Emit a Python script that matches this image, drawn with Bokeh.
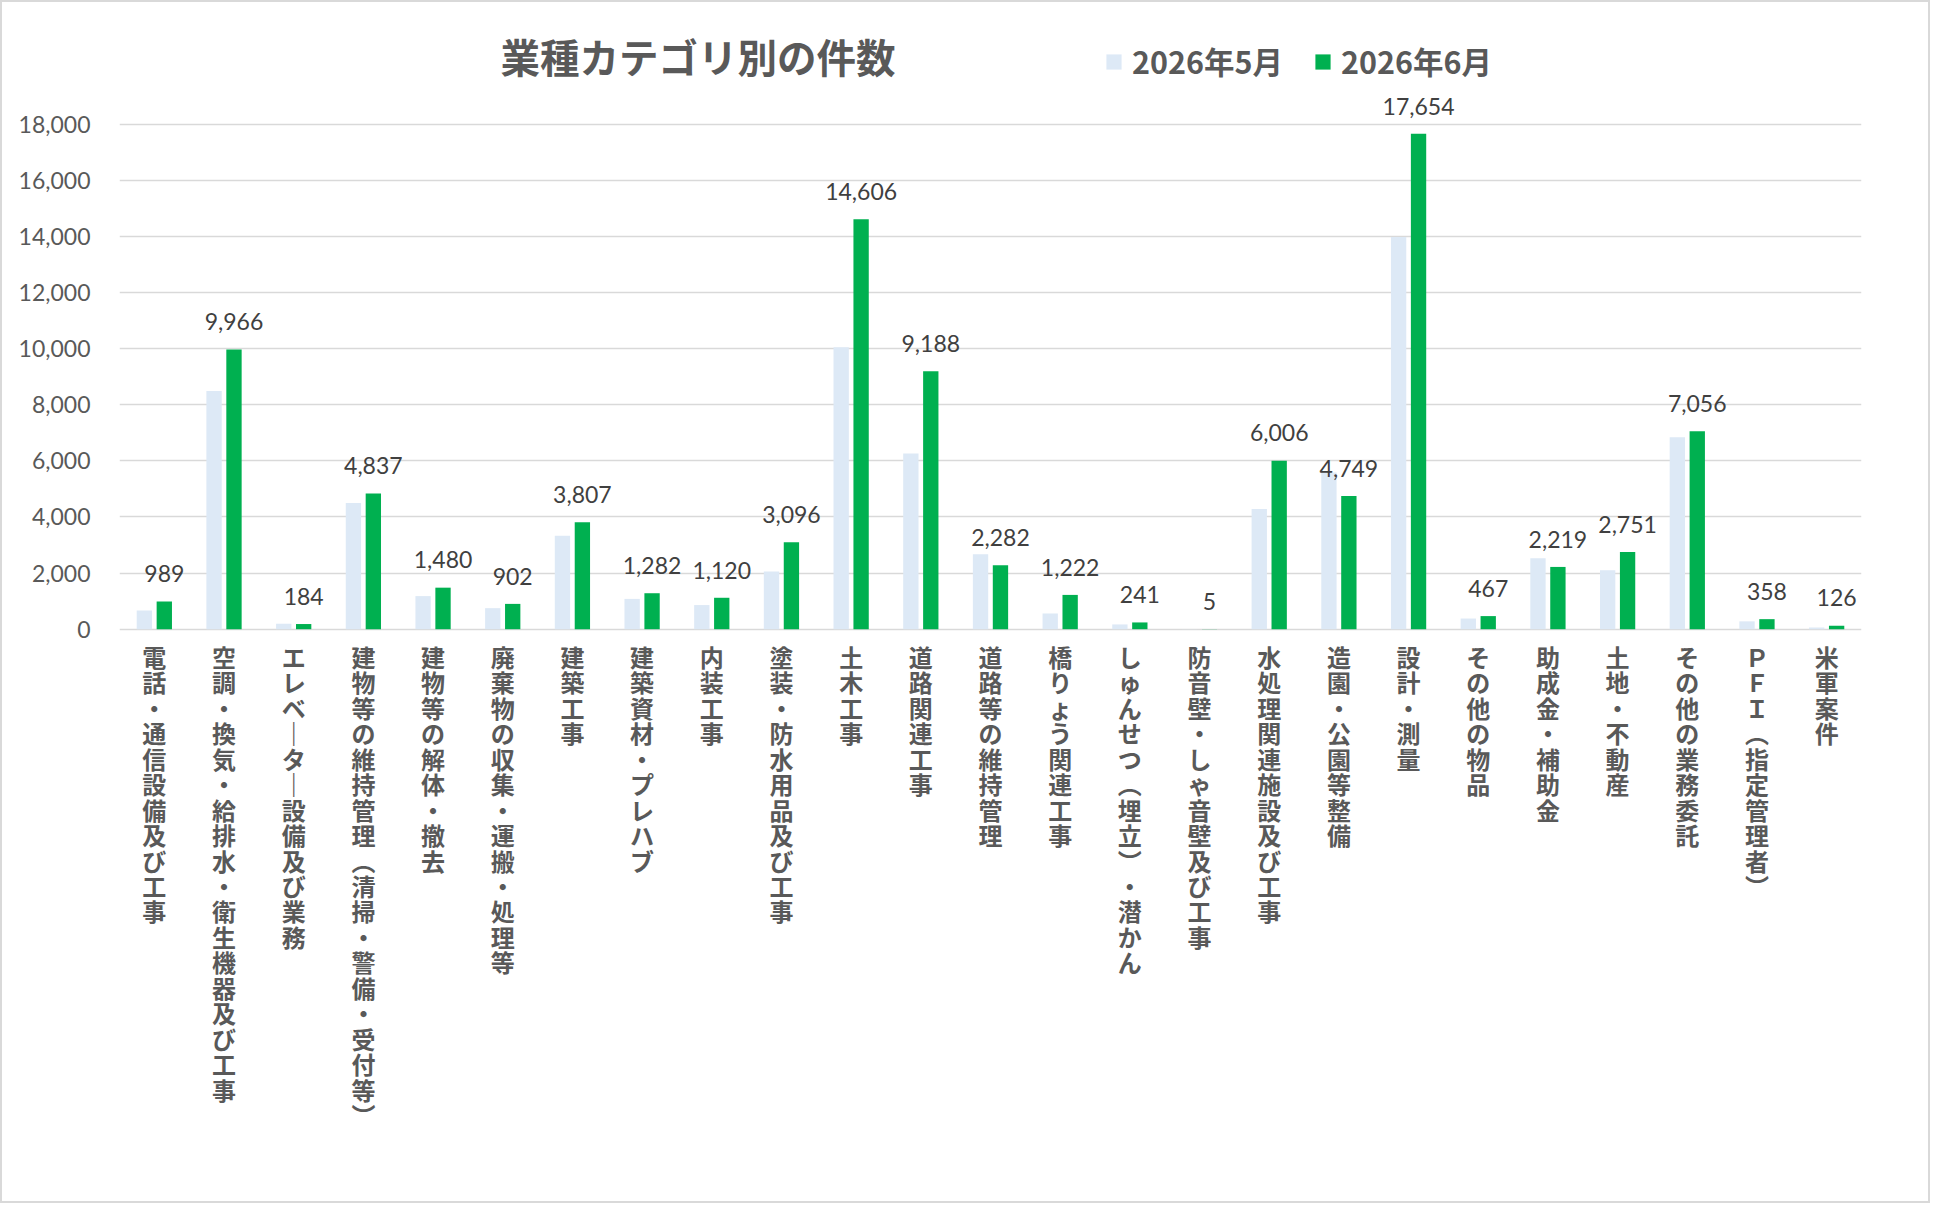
from bokeh.plotting import figure
from bokeh.models import (FactorRange, Range1d, FixedTicker, NumeralTickFormatter,
                          ColumnDataSource, Label, Legend, LegendItem)
from bokeh.transform import dodge
from bokeh.core.properties import value
from bokeh.embed import file_html
from bokeh.resources import INLINE

# ---------------- data ----------------
categories = [
    "電話・通信設備及び工事",
    "空調・換気・給排水・衛生機器及び工事",
    "エレベーター設備及び業務",
    "建物等の維持管理（清掃・警備・受付等）",
    "建物等の解体・撤去",
    "廃棄物の収集・運搬・処理等",
    "建築工事",
    "建築資材・プレハブ",
    "内装工事",
    "塗装・防水用品及び工事",
    "土木工事",
    "道路関連工事",
    "道路等の維持管理",
    "橋りょう関連工事",
    "しゅんせつ（埋立）・潜かん",
    "防音壁・しゃ音壁及び工事",
    "水処理関連施設及び工事",
    "造園・公園等整備",
    "設計・測量",
    "その他の物品",
    "助成金・補助金",
    "土地・不動産",
    "その他の業務委託",
    "ＰＦＩ（指定管理者）",
    "米軍案件",
]
may_2026 = [670, 8490, 195, 4500, 1180, 750, 3330, 1080, 860, 2060,
            10050, 6260, 2670, 560, 170, 3, 4280, 5580, 13980, 380,
            2530, 2100, 6840, 280, 60]
jun_2026 = [989, 9966, 184, 4837, 1480, 902, 3807, 1282, 1120, 3096,
            14606, 9188, 2282, 1222, 241, 5, 6006, 4749, 17654, 467,
            2219, 2751, 7056, 358, 126]
y_ticks = [0, 2000, 4000, 6000, 8000, 10000, 12000, 14000, 16000, 18000]
series_names = ["2026年5月", "2026年6月"]
title_text = "業種カテゴリ別の件数"

# ---------------- layout (pixels) ----------------
W, H = 1930, 1203
FL, FR, FT, FB = 117, 1859, 8, 1193
ZERO_PX, TOP_PX = 626.7, 121.6
YMAX = y_ticks[-1]
k = (ZERO_PX - TOP_PX) / YMAX
y_start = -(FB - ZERO_PX) / k
y_end = (ZERO_PX - FT) / k


def sx_to_x(sx):
    return (sx - FL) / (FR - FL) * len(categories)


def sy_to_y(sy):
    return (ZERO_PX - sy) / k


def vertical(s):
    rep = {"（": "︵", "）": "︶", "ー": "｜"}
    return "\n".join(rep.get(c, c) for c in s)


GRAY = "#595959"
MAY_C = "#dde9f6"
JUN_C = "#00b050"

src = ColumnDataSource(dict(
    cat=categories,
    may=may_2026,
    jun=jun_2026,
    jun_label=[f"{v:,}" for v in jun_2026],
    vlabel=[vertical(c) for c in categories],
))

p = figure(width=W, height=H,
           x_range=FactorRange(factors=categories),
           y_range=Range1d(y_start, y_end),
           x_axis_location=None,
           output_backend="svg", toolbar_location=None,
           min_border_left=FL, min_border_right=W - FR,
           min_border_top=FT, min_border_bottom=H - FB)
p.styles = {"border": "2px solid #d9d9d9"}
p.outline_line_color = None
p.background_fill_color = "white"
p.border_fill_color = "white"

for g in p.xgrid:
    g.visible = False
yt = FixedTicker(ticks=y_ticks)
ax = p.yaxis[0]
ax.ticker = yt
ax.formatter = NumeralTickFormatter(format="0,0")
ax.axis_line_color = None
ax.major_tick_line_color = None
ax.minor_tick_line_color = None
ax.major_tick_out = 0
ax.major_tick_in = 0
ax.major_label_standoff = 29
ax.major_label_text_font = "Lato"
ax.major_label_text_font_size = "23px"
ax.major_label_text_color = GRAY
for g in p.ygrid:
    g.ticker = FixedTicker(ticks=y_ticks)
    g.grid_line_color = "#d9d9d9"
    g.grid_line_width = 1.5

r_may = p.vbar(x=dodge("cat", -0.143, range=p.x_range), top="may", width=0.22,
               source=src, fill_color=MAY_C, line_color=None)
r_jun = p.vbar(x=dodge("cat", 0.143, range=p.x_range), top="jun", width=0.22,
               source=src, fill_color=JUN_C, line_color=None)

p.text(x=dodge("cat", 0.143, range=p.x_range), y="jun", text="jun_label", source=src,
       text_align="center", text_baseline="middle", y_offset=-27.7,
       text_font=value("Lato"), text_font_size="23px", text_color="#404040")

p.text(x="cat", y=0, text="vlabel", source=src, y_offset=9.5,
       text_align="center", text_baseline="top",
       text_font=value("Noto Sans CJK JP"), text_font_size="24px",
       text_font_style="bold", text_color=GRAY, text_line_height=0.728)

p.add_layout(Label(x=sx_to_x(695.5), y=sy_to_y(53.3), text=title_text,
                   text_align="center", text_baseline="middle",
                   text_font="Noto Sans CJK JP", text_font_size="39.5px",
                   text_font_style="bold", text_color=GRAY))

legend = Legend(items=[LegendItem(label=series_names[0], renderers=[r_may]),
                       LegendItem(label=series_names[1], renderers=[r_jun])],
                orientation="horizontal",
                location=(985, FB - 81.2),
                padding=0, margin=0, spacing=30,
                glyph_width=19, glyph_height=19, label_standoff=9,
                label_text_font="Noto Sans CJK JP", label_text_font_size="30.5px",
                label_text_font_style="bold", label_text_color=GRAY,
                border_line_color=None, background_fill_alpha=0)
p.add_layout(legend)

open("out.html", "w").write(file_html(p, INLINE))
